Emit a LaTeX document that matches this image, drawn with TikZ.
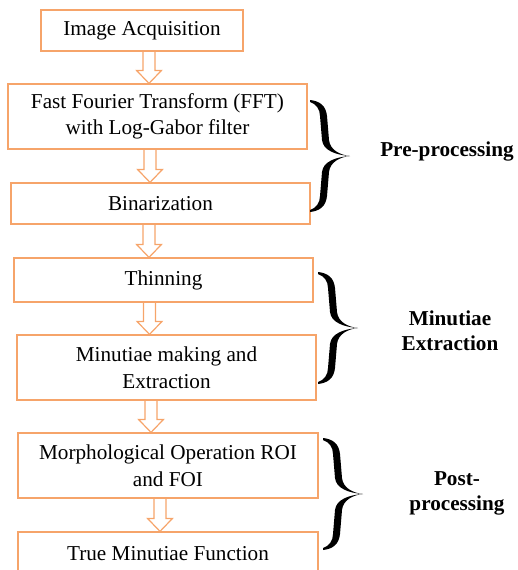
\documentclass[tikz,border=0pt]{standalone}
\usepackage{fontspec}
\setmainfont{Liberation Serif}
\usepackage{tikz}
\usetikzlibrary{calc}
\definecolor{boxorange}{RGB}{246,164,106}
\tikzset{
  font={\fontsize{21.2pt}{26.5pt}\selectfont}}
\tikzset{
  curlybrace/.pic={
    \fill [black] (0,0) .. controls (10,1) and (16,6) .. (17,16) -- (19,40)
      .. controls (20,50) and (30,55) .. (40,56)
      .. controls (30,57) and (20,62) .. (19,72) -- (17,96)
      .. controls (16,106) and (10,111) .. (0,112) -- (0,110)
      .. controls (6,108) and (10,103) .. (10,96) -- (12,72)
      .. controls (13,62) and (25,57) .. (40,56)
      .. controls (25,55) and (13,50) .. (12,40) -- (10,16)
      .. controls (10,9) and (6,4) .. (0,2) -- cycle;
  }}

\begin{document}
\begin{tikzpicture}[x=1pt,y=-1pt,
  stage/.style={draw=boxorange,line width=1.2pt,inner sep=0pt,align=center,minimum width=299pt},
  phase/.style={align=center,font={\fontsize{21.2pt}{25pt}\selectfont\bfseries}},
  flowarrow/.style={draw=boxorange,line width=1.2pt,line join=miter,to path={
    let \p1=(\tikztostart), \p2=(\tikztotarget) in
    (\x1-6pt,\y1) -- (\x1-6pt,\y2+13pt) -- (\x1-12.5pt,\y2+13pt) -- (\x1,\y2)
    -- (\x1+12.5pt,\y2+13pt) -- (\x1+6pt,\y2+13pt) -- (\x1+6pt,\y1)}}]
\path [use as bounding box,clip] (0,0) rectangle (518,570);
\node [stage,minimum width=202pt,minimum height=41pt] (acq) at (142,30.5) {Image Acquisition};
\node [stage,minimum height=65pt] (fft) at (157.5,116.5) {Fast Fourier Transform (FFT)\\with Log-Gabor filter};
\node [stage,minimum height=41pt] (bin) at (160.5,203.5) {Binarization};
\node [stage,minimum height=44pt] (thin) at (163.5,280) {Thinning};
\node [stage,minimum height=65pt] (mnt) at (166.5,367.5) {Minutiae making and\\Extraction};
\node [stage,minimum width=300pt,minimum height=65pt] (morph) at (168,465.5) {Morphological Operation ROI\\and FOI};
\node [stage,minimum width=300pt,minimum height=43pt] (truem) at (168,553.5) {True Minutiae Function};
\draw [flowarrow] ([xshift=7]acq.south) to (fft.north);
\draw [flowarrow] ([xshift=-7.5]fft.south) to (bin.north);
\draw [flowarrow] ([xshift=-11.5]bin.south) to (thin.north);
\draw [flowarrow] ([xshift=-14]thin.south) to (mnt.north);
\draw [flowarrow] ([xshift=-15.5]mnt.south) to (morph.north);
\draw [flowarrow] ([xshift=-8]morph.south) to (truem.north);
\pic at (310,100) {curlybrace};
\pic at (318,272) {curlybrace};
\pic at (323,438) {curlybrace};
\node [phase] (prelbl) at (447,151) {Pre-processing};
\node [phase] (minlbl) at (450,331) {Minutiae\\Extraction};
\node [phase] (postlbl) at (457,493) {Post-\\processing};
\end{tikzpicture}
\end{document}
